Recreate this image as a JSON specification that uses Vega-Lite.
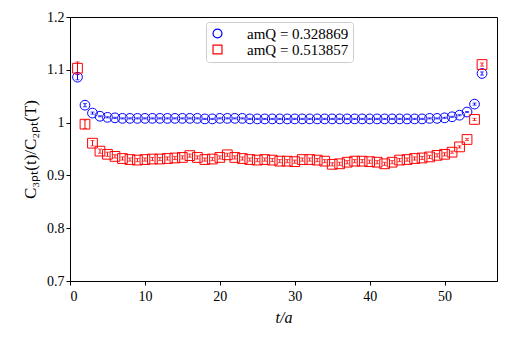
{
  "$schema": "https://vega.github.io/schema/vega-lite/v6.json",
  "autosize": "none",
  "width": 427,
  "height": 264,
  "padding": {"left": 70, "top": 17, "right": 18, "bottom": 62},
  "background": "white",
  "config": {
    "font": "Liberation Serif",
    "view": {"stroke": "black", "strokeWidth": 1},
    "axis": {"domainColor": "black", "tickColor": "black", "labelColor": "black", "titleColor": "black", "grid": false, "labelFontSize": 14, "titleFontSize": 16, "titleFontWeight": "normal", "tickSize": 4, "labelFont": "Liberation Serif", "titleFont": "Liberation Serif"}
  },
  "data": {"values": [
    {"t":1,"s":"b","v":1.086,"e":0.005},{"t":2,"s":"b","v":1.033,"e":0.003},{"t":3,"s":"b","v":1.018,"e":0.002},{"t":4,"s":"b","v":1.012,"e":0.001},{"t":5,"s":"b","v":1.010,"e":0.001},
    {"t":6,"s":"b","v":1.009,"e":0.001},{"t":7,"s":"b","v":1.008,"e":0.001},{"t":8,"s":"b","v":1.008,"e":0.001},{"t":9,"s":"b","v":1.008,"e":0.001},{"t":10,"s":"b","v":1.008,"e":0.001},
    {"t":11,"s":"b","v":1.008,"e":0.001},{"t":12,"s":"b","v":1.008,"e":0.001},{"t":13,"s":"b","v":1.008,"e":0.001},{"t":14,"s":"b","v":1.008,"e":0.001},{"t":15,"s":"b","v":1.008,"e":0.001},
    {"t":16,"s":"b","v":1.008,"e":0.001},{"t":17,"s":"b","v":1.008,"e":0.001},{"t":18,"s":"b","v":1.007,"e":0.001},{"t":19,"s":"b","v":1.007,"e":0.001},{"t":20,"s":"b","v":1.008,"e":0.001},
    {"t":21,"s":"b","v":1.008,"e":0.001},{"t":22,"s":"b","v":1.008,"e":0.001},{"t":23,"s":"b","v":1.008,"e":0.001},{"t":24,"s":"b","v":1.007,"e":0.001},{"t":25,"s":"b","v":1.007,"e":0.001},
    {"t":26,"s":"b","v":1.007,"e":0.001},{"t":27,"s":"b","v":1.007,"e":0.001},{"t":28,"s":"b","v":1.007,"e":0.001},{"t":29,"s":"b","v":1.007,"e":0.001},{"t":30,"s":"b","v":1.007,"e":0.001},
    {"t":31,"s":"b","v":1.007,"e":0.001},{"t":32,"s":"b","v":1.007,"e":0.001},{"t":33,"s":"b","v":1.007,"e":0.001},{"t":34,"s":"b","v":1.007,"e":0.001},{"t":35,"s":"b","v":1.007,"e":0.001},
    {"t":36,"s":"b","v":1.007,"e":0.001},{"t":37,"s":"b","v":1.007,"e":0.001},{"t":38,"s":"b","v":1.007,"e":0.001},{"t":39,"s":"b","v":1.007,"e":0.001},{"t":40,"s":"b","v":1.007,"e":0.001},
    {"t":41,"s":"b","v":1.007,"e":0.001},{"t":42,"s":"b","v":1.007,"e":0.001},{"t":43,"s":"b","v":1.007,"e":0.001},{"t":44,"s":"b","v":1.007,"e":0.001},{"t":45,"s":"b","v":1.007,"e":0.001},
    {"t":46,"s":"b","v":1.007,"e":0.001},{"t":47,"s":"b","v":1.007,"e":0.001},{"t":48,"s":"b","v":1.008,"e":0.001},{"t":49,"s":"b","v":1.008,"e":0.001},{"t":50,"s":"b","v":1.009,"e":0.001},
    {"t":51,"s":"b","v":1.011,"e":0.001},{"t":52,"s":"b","v":1.014,"e":0.001},{"t":53,"s":"b","v":1.020,"e":0.001},{"t":54,"s":"b","v":1.035,"e":0.002},{"t":55,"s":"b","v":1.093,"e":0.003},
    {"t":1,"s":"r","v":1.103,"e":0.012},{"t":2,"s":"r","v":0.997,"e":0.008},{"t":3,"s":"r","v":0.961,"e":0.005},{"t":4,"s":"r","v":0.946,"e":0.004},{"t":5,"s":"r","v":0.940,"e":0.004},
    {"t":6,"s":"r","v":0.936,"e":0.003},{"t":7,"s":"r","v":0.932,"e":0.003},{"t":8,"s":"r","v":0.930,"e":0.003},{"t":9,"s":"r","v":0.929,"e":0.003},{"t":10,"s":"r","v":0.930,"e":0.003},
    {"t":11,"s":"r","v":0.931,"e":0.003},{"t":12,"s":"r","v":0.931,"e":0.003},{"t":13,"s":"r","v":0.932,"e":0.003},{"t":14,"s":"r","v":0.933,"e":0.003},{"t":15,"s":"r","v":0.934,"e":0.003},
    {"t":16,"s":"r","v":0.9375,"e":0.003},{"t":17,"s":"r","v":0.934,"e":0.003},{"t":18,"s":"r","v":0.930,"e":0.003},{"t":19,"s":"r","v":0.931,"e":0.003},{"t":20,"s":"r","v":0.934,"e":0.003},
    {"t":21,"s":"r","v":0.939,"e":0.003},{"t":22,"s":"r","v":0.934,"e":0.003},{"t":23,"s":"r","v":0.932,"e":0.003},{"t":24,"s":"r","v":0.930,"e":0.003},{"t":25,"s":"r","v":0.929,"e":0.003},
    {"t":26,"s":"r","v":0.930,"e":0.003},{"t":27,"s":"r","v":0.929,"e":0.003},{"t":28,"s":"r","v":0.927,"e":0.003},{"t":29,"s":"r","v":0.927,"e":0.003},{"t":30,"s":"r","v":0.926,"e":0.003},
    {"t":31,"s":"r","v":0.930,"e":0.003},{"t":32,"s":"r","v":0.930,"e":0.003},{"t":33,"s":"r","v":0.929,"e":0.003},{"t":34,"s":"r","v":0.927,"e":0.003},{"t":35,"s":"r","v":0.921,"e":0.003},
    {"t":36,"s":"r","v":0.922,"e":0.003},{"t":37,"s":"r","v":0.925,"e":0.003},{"t":38,"s":"r","v":0.927,"e":0.003},{"t":39,"s":"r","v":0.927,"e":0.003},{"t":40,"s":"r","v":0.926,"e":0.003},
    {"t":41,"s":"r","v":0.925,"e":0.003},{"t":42,"s":"r","v":0.922,"e":0.003},{"t":43,"s":"r","v":0.925,"e":0.003},{"t":44,"s":"r","v":0.929,"e":0.003},{"t":45,"s":"r","v":0.930,"e":0.003},
    {"t":46,"s":"r","v":0.932,"e":0.003},{"t":47,"s":"r","v":0.933,"e":0.003},{"t":48,"s":"r","v":0.935,"e":0.003},{"t":49,"s":"r","v":0.938,"e":0.003},{"t":50,"s":"r","v":0.940,"e":0.003},
    {"t":51,"s":"r","v":0.944,"e":0.002},{"t":52,"s":"r","v":0.954,"e":0.002},{"t":53,"s":"r","v":0.968,"e":0.002},{"t":54,"s":"r","v":1.006,"e":0.002},{"t":55,"s":"r","v":1.110,"e":0.003}
  ]},
  "encoding": {
    "x": {"field": "t", "type": "quantitative", "scale": {"domain": [0, 57], "nice": false, "zero": false},
          "axis": {"values": [0,10,20,30,40,50], "title": "t/a", "titleFontStyle": "italic", "labelPadding": 4, "titlePadding": 6}},
    "y": {"field": "v", "type": "quantitative", "scale": {"domain": [0.7, 1.2], "nice": false, "zero": false},
          "axis": {"values": [0.7,0.8,0.9,1.0,1.1,1.2], "labelExpr": "datum.value == 1 ? '1' : format(datum.value, '.1f')", "title": "C₃ₚₜ(t)/C₂ₚₜ(T)", "titleFontSize": 17, "titlePadding": 7}}
  },
  "layer": [
    {
      "mark": {"type": "errorbar", "ticks": {"size": 4}, "thickness": 1},
      "encoding": {
        "yError": {"field": "e"},
        "color": {"condition": {"test": "datum.s == 'b'", "value": "#0000ff"}, "value": "#ff0000"}
      }
    },
    {
      "mark": {"type": "point", "filled": false, "strokeWidth": 1, "opacity": 1},
      "encoding": {
        "color": {"field": "s", "type": "nominal", "title": null, "scale": {"domain": ["b","r"], "range": ["#0000ff","#ff0000"]},
          "legend": {"orient": "none", "legendX": 136, "legendY": 5, "title": null, "labelExpr": "datum.value == 'b' ? 'amQ = 0.328869' : 'amQ = 0.513857'", "labelFontSize": 15, "labelFont": "Liberation Serif", "labelColor": "black", "strokeColor": "#cccccc", "cornerRadius": 3, "padding": 4, "fillColor": "white", "symbolSize": 80, "symbolStrokeWidth": 1.2, "rowPadding": 0, "labelOffset": 22}},
        "shape": {"field": "s", "type": "nominal", "title": null, "scale": {"domain": ["b","r"], "range": ["circle","square"]}},
        "size": {"value": 95}
      }
    }
  ]
}
